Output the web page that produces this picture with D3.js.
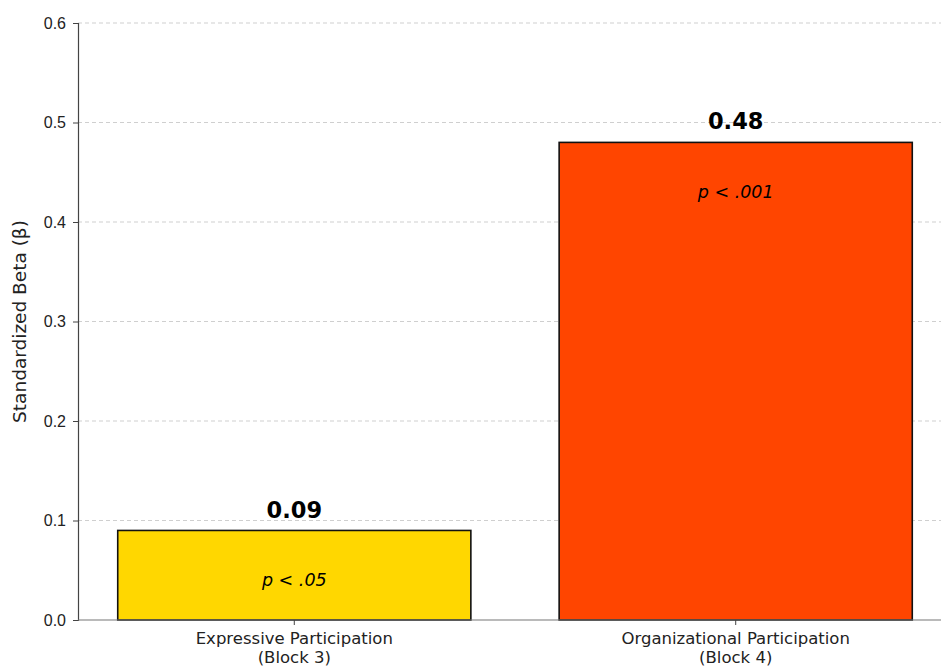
<!DOCTYPE html>
<html>
<head>
<meta charset="utf-8">
<script src="https://cdn.jsdelivr.net/npm/d3@7"></script>
<style>
  body { margin: 0; background: #fff; }
  svg { display: block; font-family: "DejaVu Sans", sans-serif; }
</style>
</head>
<body>
<div id="chart"></div>
<script>
// data
const categories = ["Expressive Participation\n(Block 3)", "Organizational Participation\n(Block 4)"];
const betas = [0.09, 0.48];
const pLabels = ["p < .05", "p < .001"];
const barColors = ["#FFD700", "#FF4500"];
const yTicks = [0, 0.1, 0.2, 0.3, 0.4, 0.5, 0.6];

const width = 941, height = 668;
const margin = { top: 23, left: 78, bottom: 48 };
const plotBottom = height - margin.bottom;

const svg = d3.select("#chart").append("svg")
  .attr("width", width)
  .attr("height", height);

// matplotlib-like x: categories at 0,1, bar width 0.8, 5% margins
const x = d3.scaleLinear().domain([-0.49, 1.49]).range([margin.left, 952]);
const y = d3.scaleLinear().domain([0, 0.6]).range([plotBottom, margin.top]);
const barW = 0.8;

// grid
svg.append("g")
  .selectAll("line")
  .data(yTicks.slice(1))
  .join("line")
  .attr("x1", margin.left)
  .attr("x2", width)
  .attr("y1", d => y(d))
  .attr("y2", d => y(d))
  .attr("stroke", "#cfcfcf")
  .attr("stroke-width", 1)
  .attr("stroke-dasharray", "4,3");

// bars
svg.append("g")
  .selectAll("rect")
  .data(betas)
  .join("rect")
  .attr("x", (d, i) => x(i - barW / 2))
  .attr("width", (d, i) => x(i + barW / 2) - x(i - barW / 2))
  .attr("y", d => y(d))
  .attr("height", d => y(0) - y(d))
  .attr("fill", (d, i) => barColors[i])
  .attr("stroke", "#111")
  .attr("stroke-width", 1.6);

// value labels
svg.append("g")
  .selectAll("text")
  .data(betas)
  .join("text")
  .attr("x", (d, i) => x(i))
  .attr("y", d => y(d + 0.01) - 3)
  .attr("text-anchor", "middle")
  .style("font-size", "22.5px")
  .style("font-weight", "bold")
  .text(d => d.toFixed(2));

// p labels
svg.append("g")
  .selectAll("text")
  .data(betas)
  .join("text")
  .attr("x", (d, i) => x(i))
  .attr("y", d => y(d - 0.05))
  .attr("dy", "0.35em")
  .attr("text-anchor", "middle")
  .style("font-size", "17.5px")
  .style("font-style", "italic")
  .text((d, i) => pLabels[i]);

// y axis
const yAxis = svg.append("g")
  .attr("transform", `translate(${margin.left},0)`)
  .call(d3.axisLeft(y).tickValues(yTicks).tickFormat(d3.format(".1f")).tickSize(5).tickPadding(7));
yAxis.select(".domain").attr("stroke", "#444").attr("stroke-width", 1.2);
yAxis.selectAll(".tick line").attr("stroke", "#444");
yAxis.selectAll(".tick text").style("font-size", "16px").attr("fill", "#222");

// x axis
svg.append("line")
  .attr("x1", margin.left).attr("x2", width)
  .attr("y1", plotBottom).attr("y2", plotBottom)
  .attr("stroke", "#777").attr("stroke-width", 1.2);

const xTicks = svg.append("g")
  .selectAll("g")
  .data(categories)
  .join("g")
  .attr("transform", (d, i) => `translate(${x(i)},${plotBottom})`);
xTicks.append("line").attr("y2", 5).attr("stroke", "#444");
xTicks.append("text")
  .attr("text-anchor", "middle")
  .style("font-size", "16.5px")
  .attr("fill", "#222")
  .selectAll("tspan")
  .data(d => d.split("\n"))
  .join("tspan")
  .attr("x", 0)
  .attr("y", (d, i) => 24 + i * 19)
  .text(d => d);

// y label
svg.append("text")
  .attr("transform", `translate(26,${(margin.top + plotBottom) / 2}) rotate(-90)`)
  .attr("text-anchor", "middle")
  .style("font-size", "18.5px")
  .attr("fill", "#222")
  .text("Standardized Beta (β)");
</script>
</body>
</html>
